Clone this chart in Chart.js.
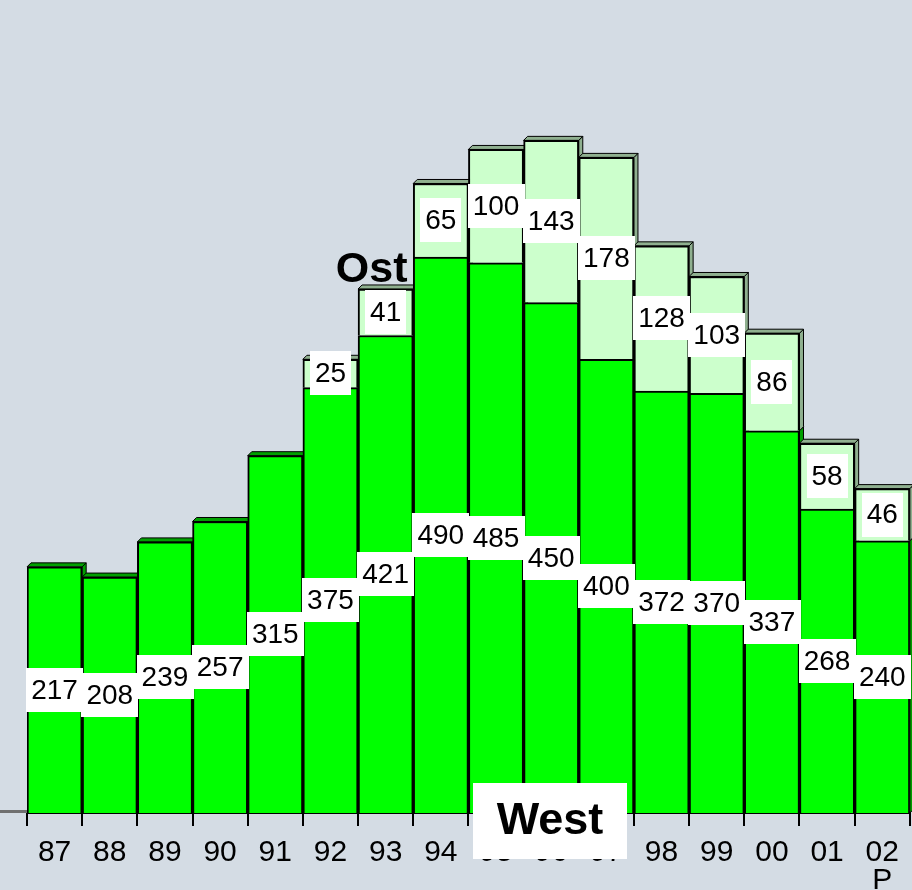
<!DOCTYPE html>
<html>
<head>
<meta charset="utf-8">
<script src="https://cdn.jsdelivr.net/npm/chart.js@4/dist/chart.umd.min.js"></script>
<style>
  body { margin: 0; background: #d4dce4; }
  #wrap { width: 912px; height: 890px; }
</style>
</head>
<body>
<div id="wrap"><canvas id="myChart" width="912" height="890"></canvas></div>
<script>
var jahre = ['87','88','89','90','91','92','93','94','95','96','97','98','99','00','01',['02','P']];
var west = [217,208,239,257,315,375,421,490,485,450,400,372,370,337,268,240];
var ost = [null,null,null,null,null,25,41,65,100,143,178,128,103,86,58,46];
var farbeWest = '#00ff00';
var farbeOst = '#ccffcc';
var schrift = '"Liberation Sans", Arial, sans-serif';

// dunkle Seitenflaechen fuer den 3D-Effekt
var tiefe = {
  id: 'tiefe',
  beforeDatasetsDraw: function(chart) {
    var ctx = chart.ctx;
    var d = 4;
    var schatten = ['#00a000', '#8fb08f'];
    var area = chart.chartArea;
    ctx.save();
    // Boden links
    ctx.fillStyle = '#707070';
    ctx.fillRect(0, area.bottom - 3, area.left, 3);
    for (var ds = 0; ds < 2; ds++) {
      var meta = chart.getDatasetMeta(ds);
      meta.data.forEach(function(bar, i) {
        var v = chart.data.datasets[ds].data[i];
        if (v == null) return;
        var x2 = bar.x + bar.width / 2;
        var x1 = bar.x - bar.width / 2;
        var top = bar.y;
        var bottom = bar.base;
        ctx.fillStyle = schatten[ds];
        ctx.strokeStyle = '#000';
        ctx.lineWidth = 1;
        ctx.beginPath();
        ctx.moveTo(x2, top);
        ctx.lineTo(x2 + d, top - d);
        ctx.lineTo(x2 + d, bottom - d);
        ctx.lineTo(x2, bottom);
        ctx.closePath();
        ctx.fill();
        ctx.stroke();
        var oben = ds == 1 || ost[i] == null;
        if (oben) {
          ctx.beginPath();
          ctx.moveTo(x1, top);
          ctx.lineTo(x1 + d, top - d);
          ctx.lineTo(x2 + d, top - d);
          ctx.lineTo(x2, top);
          ctx.closePath();
          ctx.fill();
          ctx.stroke();
        }
      });
    }
    ctx.restore();
  },
  afterDatasetsDraw: function(chart) {
    var ctx = chart.ctx;
    ctx.save();
    ctx.font = '28px ' + schrift;
    ctx.textAlign = 'center';
    ctx.textBaseline = 'middle';
    for (var ds = 0; ds < 2; ds++) {
      var meta = chart.getDatasetMeta(ds);
      meta.data.forEach(function(bar, i) {
        var v = chart.data.datasets[ds].data[i];
        if (v == null) return;
        var cy = (bar.y + bar.base) / 2;
        var txt = String(v);
        var w = ctx.measureText(txt).width + 10;
        var h = 44;
        ctx.fillStyle = '#fff';
        ctx.fillRect(Math.round(bar.x - w / 2), Math.round(cy - h / 2), Math.round(w), h);
        ctx.fillStyle = '#000';
        ctx.fillText(txt, bar.x, cy + 1);
      });
    }
    ctx.restore();
  },
  afterDraw: function(chart) {
    var ctx = chart.ctx;
    var x = chart.scales.x;
    var y = chart.scales.y;
    ctx.save();
    ctx.font = 'bold 43px ' + schrift;
    ctx.textAlign = 'center';
    ctx.textBaseline = 'middle';
    ctx.fillStyle = '#000';
    ctx.fillText('Ost', x.getPixelForValue(6) - 14, y.getPixelForValue(480) + 2);
    ctx.font = 'bold 45px ' + schrift;
    ctx.fillStyle = '#fff';
    ctx.fillRect(473, 783, 154, 76);
    ctx.fillStyle = '#000';
    ctx.fillText('West', 550, 822);
    ctx.restore();
  }
};

var datos = {
  labels: jahre,
  datasets: [
    { label: 'West', data: west, backgroundColor: farbeWest, borderColor: '#000', borderWidth: 2 },
    { label: 'Ost', data: ost, backgroundColor: farbeOst, borderColor: '#000', borderWidth: 2 }
  ]
};

var opciones = {
  responsive: false,
  animation: false,
  layout: { padding: { left: 27, right: 2, top: 19, bottom: 0 } },
  plugins: { legend: { display: false }, tooltip: { enabled: false } },
  scales: {
    x: {
      stacked: true,
      offset: true,
      grid: { offset: true, drawOnChartArea: false, drawTicks: true, tickLength: 13, color: '#000', lineWidth: 2 },
      border: { display: true, color: '#000', width: 2 },
      ticks: { color: '#000', font: { family: schrift, size: 30, lineHeight: 0.93 }, padding: 13, maxRotation: 0, autoSkip: false },
      afterFit: function(s) { s.height = 77; }
    },
    y: {
      stacked: true,
      display: false,
      min: 0,
      max: 700
    }
  },
  datasets: { bar: { barPercentage: 1, categoryPercentage: 1 } }
};

var myChart = new Chart(document.getElementById('myChart'), {
  type: 'bar',
  data: datos,
  options: opciones,
  plugins: [tiefe]
});
</script>
</body>
</html>
